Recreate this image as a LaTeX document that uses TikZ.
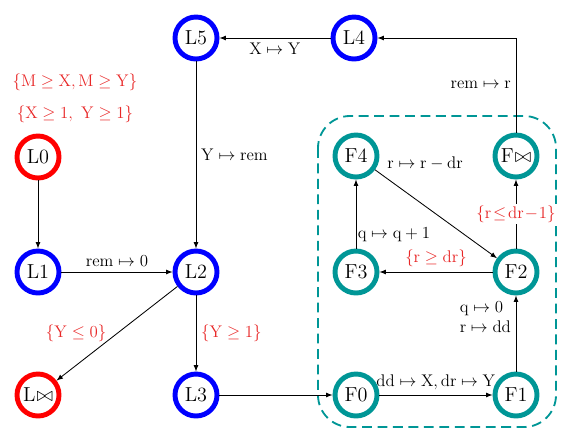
\documentclass[tikz,border=0pt]{standalone}
\definecolor{fteal}{RGB}{0,150,150}
\definecolor{gred}{RGB}{232,40,40}

\begin{document}
\begin{tikzpicture}[x=1cm,y=1cm,
    state/.style={circle,line width=3.5pt,minimum size=1.05cm,inner sep=0pt,font=\Large},
    lstate/.style={state,draw=blue},
    bad/.style={state,draw=red},
    fstate/.style={state,draw=fteal},
    trans/.style={-latex,line width=0.6pt},
    act/.style={font=\fontsize{11.5}{14}\selectfont},
    guard/.style={act,text=gred}]
  \useasboundingbox (0,0) rectangle (14.2,-11.075);

  % the inner loop
  \draw [fteal,line width=1.3pt,dash pattern=on 7pt off 4pt,rounded corners=0.8cm]
    (7.95,-2.9) rectangle (13.9,-10.675);

  % states
  \node [bad]    (l0)   at (0.95,-3.925) {$\mathrm{L0}$};
  \node [lstate] (l1)   at (0.95,-6.8)   {$\mathrm{L1}$};
  \node [lstate] (l2)   at (4.9,-6.8)    {$\mathrm{L2}$};
  \node [lstate] (l3)   at (4.9,-9.875)  {$\mathrm{L3}$};
  \node [bad]    (lerr) at (0.95,-9.875) {$\mathrm{L}\mkern1mu{\bowtie}$};
  \node [lstate] (l5)   at (4.9,-0.95)   {$\mathrm{L5}$};
  \node [lstate] (l4)   at (8.85,-0.95)  {$\mathrm{L4}$};
  \node [fstate] (f4)   at (8.9,-3.9)    {$\mathrm{F4}$};
  \node [fstate] (ferr) at (12.9,-3.9)   {$\mathrm{F}\mkern1mu{\bowtie}$};
  \node [fstate] (f3)   at (8.9,-6.8)    {$\mathrm{F3}$};
  \node [fstate] (f2)   at (12.9,-6.8)   {$\mathrm{F2}$};
  \node [fstate] (f0)   at (8.9,-9.875)  {$\mathrm{F0}$};
  \node [fstate] (f1)   at (12.9,-9.875) {$\mathrm{F1}$};

  % precondition
  \node [guard] (pre1) at (1.875,-2.05) {$\{\mathrm{M}\geq\mathrm{X},\mathrm{M}\geq\mathrm{Y}\}$};
  \node [guard] (pre2) at (1.875,-2.85) {$\{\mathrm{X}\geq1,\ \mathrm{Y}\geq1\}$};

  % transitions
  \draw [trans] (l0) -- (l1);
  \draw [trans] (l1) -- node [act,above] {$\mathrm{rem}\mapsto0$} (l2);
  \draw [trans] (l2) -- node [guard,right] {$\{\mathrm{Y}\geq1\}$} (l3);
  \draw [trans] (l2) -- node [guard,left=4pt] {$\{\mathrm{Y}\leq0\}$} (lerr);
  \draw [trans] (l3) -- (f0);
  \draw [trans] (f0) -- node [act,above] {$\mathrm{dd}\mapsto\mathrm{X},\mathrm{dr}\mapsto\mathrm{Y}$} (f1);
  \draw [trans] (f1) -- node [act,pos=0.72,left,align=left] {$\mathrm{q}\mapsto0$\\$\mathrm{r}\mapsto\mathrm{dd}$} (f2);
  \draw [trans] (f2) -- node [guard,above] {$\{\mathrm{r}\geq\mathrm{dr}\}$} (f3);
  \draw [trans] (f3) -- node [act,pos=0.2,right,inner sep=1pt] {$\mathrm{q}\mapsto\mathrm{q}+1$} (f4);
  \draw [trans] (f4) -- node [act,pos=0.06,above right] {$\mathrm{r}\mapsto\mathrm{r}-\mathrm{dr}$} (f2);
  \draw [trans] (f2) -- node [guard,fill=white,inner sep=1pt] {$\{\mathrm{r}\!\leq\!\mathrm{dr}\!-\!1\}$} (ferr);
  \draw [trans] (ferr) |- node [act,pos=0.25,left] {$\mathrm{rem}\mapsto\mathrm{r}$} (l4);
  \draw [trans] (l4) -- node [act,below] {$\mathrm{X}\mapsto\mathrm{Y}$} (l5);
  \draw [trans] (l5) -- node [act,right] {$\mathrm{Y}\mapsto\mathrm{rem}$} (l2);
\end{tikzpicture}
\end{document}
